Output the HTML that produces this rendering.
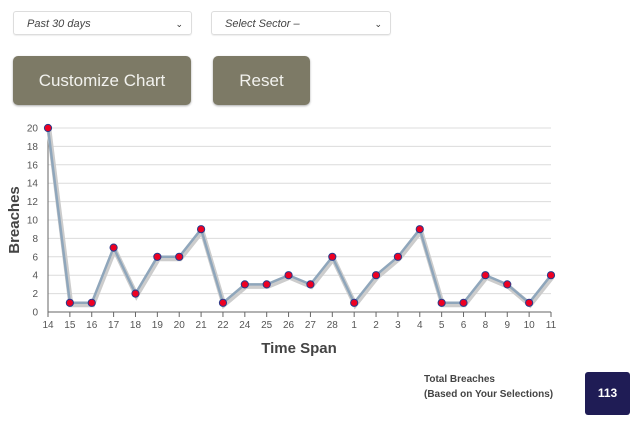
<!DOCTYPE html>
<html><head><meta charset="utf-8"><style>
body{margin:0;width:640px;height:426px;background:#fff;font-family:"Liberation Sans",sans-serif;position:relative;overflow:hidden}
.sel{position:absolute;top:11px;height:24px;border:1px solid #ddd;border-radius:3px;font-style:italic;font-size:11px;color:#444;line-height:24px;padding-left:13px;box-sizing:border-box;box-shadow:0 1px 1px #eee}
.sel span{position:absolute;right:8px;top:0;font-style:normal;font-size:9px;color:#333}
.btn{position:absolute;top:56px;height:49px;background:#7d7a66;border-radius:5px;color:#f2f2ee;font-size:17px;text-align:center;line-height:49px;box-shadow:0 1px 2px #aaa}
.tot{position:absolute;left:424px;top:372px;font-size:10px;font-weight:bold;color:#444;line-height:15px}
.box{position:absolute;left:585px;top:372px;width:45px;height:43px;background:#1f1c55;border-radius:3px;color:#fff;font-weight:bold;font-size:12px;text-align:center;line-height:43px}
</style></head><body>
<div class="sel" style="left:13px;width:179px">Past 30 days<span>&#8964;</span></div>
<div class="sel" style="left:211px;width:180px">Select Sector –<span>&#8964;</span></div>
<div class="btn" style="left:13px;width:178px">Customize Chart</div>
<div class="btn" style="left:213px;width:97px">Reset</div>
<svg id="c" width="640" height="360" style="position:absolute;left:0;top:0"></svg>
<div class="tot">Total Breaches<br>(Based on Your Selections)</div>
<div class="box">113</div>
<script>
const categories=["14","15","16","17","18","19","20","21","22","24","25","26","27","28","1","2","3","4","5","6","8","9","10","11"];
const values=[20,1,1,7,2,6,6,9,1,3,3,4,3,6,1,4,6,9,1,1,4,3,1,4];
const yTicks=[0,2,4,6,8,10,12,14,16,18,20];
const NS="http://www.w3.org/2000/svg",svg=document.getElementById('c');
const x0=48,x1=551,y0=312,y1=128;
const xs=i=>x0+i*(x1-x0)/(categories.length-1);
const ys=v=>y0-v*(y0-y1)/20;
function mk(t,a,p){const e=document.createElementNS(NS,t);for(const k in a)e.setAttribute(k,a[k]);(p||svg).appendChild(e);return e;}
yTicks.forEach(t=>{
const l=mk('line',{x1:x0,x2:x1,y1:ys(t),y2:ys(t),stroke:t?'#dcdcdc':'#666','stroke-width':1});


const tx=mk('text',{x:38,y:ys(t)+3.5,'text-anchor':'end','font-size':10,fill:'#555'});tx.textContent=t;


});
mk('line',{x1:x0,x2:x0,y1:y1,y2:y0,stroke:'#666'});
categories.forEach((c,i)=>{
mk('line',{x1:xs(i),x2:xs(i),y1:y0,y2:y0+5,stroke:'#666'});
const tx=mk('text',{x:xs(i),y:328,'text-anchor':'middle','font-size':10,fill:'#555'});tx.textContent=c;


});
const pts=values.map((v,i)=>xs(i)+','+ys(v)).join(' ');
mk('polyline',{points:pts,fill:'none',stroke:'#ccc','stroke-width':5,transform:'translate(1,2)'});
const pl=mk('polyline',{points:pts,fill:'none',stroke:'#8fa6bb','stroke-width':2.5});


values.forEach((v,i)=>{
const c=mk('circle',{cx:xs(i),cy:ys(v),r:3.6,fill:'#ee0022',stroke:'#2a3a8a','stroke-width':1});


});
const yt=mk('text',{x:19,y:220,'text-anchor':'middle','font-size':15,'font-weight':'bold',fill:'#444',transform:'rotate(-90 19 220)'});yt.textContent='Breaches';


const xt=mk('text',{x:299,y:353,'text-anchor':'middle','font-size':15,'font-weight':'bold',fill:'#444'});xt.textContent='Time Span';


</script>
</body></html>
